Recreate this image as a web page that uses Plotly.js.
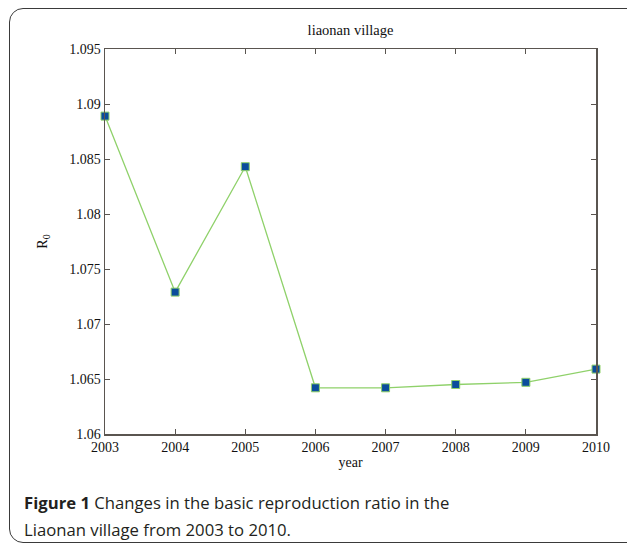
<!DOCTYPE html>
<html>
<head>
<meta charset="utf-8">
<script src="https://cdn.plot.ly/plotly-3.0.1.min.js"></script>
<style>
  html, body { margin: 0; padding: 0; background: #fff; }
  #wrap { position: relative; width: 627px; height: 547px; overflow: hidden; }
  #frame { position: absolute; left: 9px; top: 8px; width: 640px; height: 535px;
           border: 1.6px solid #3a3a3a; border-radius: 14px; box-sizing: border-box; pointer-events: none; }
  #chart { position: absolute; left: 0; top: 0; width: 627px; height: 547px; }
</style>
</head>
<body>
<div id="wrap">
  <div id="chart"></div>
  <div id="frame"></div>
</div>
<script>
const years = [2003, 2004, 2005, 2006, 2007, 2008, 2009, 2010];
const r0 = [1.0889, 1.0729, 1.0843, 1.0642, 1.0642, 1.0645, 1.0647, 1.0659];
const yTickVals = [1.06, 1.065, 1.07, 1.075, 1.08, 1.085, 1.09, 1.095];
const yTickText = ['1.06', '1.065', '1.07', '1.075', '1.08', '1.085', '1.09', '1.095'];
const xTickVals = years;
const xTickText = ['2003', '2004', '2005', '2006', '2007', '2008', '2009', '2010'];
const chartTitle = 'liaonan village';
const xTitle = 'year';
const yTitle = 'R<sub>0</sub>';
const captionLine1 = '<b>Figure 1</b> Changes in the basic reproduction ratio in the';
const captionLine2 = 'Liaonan village from 2003 to 2010.';

const serif = 'Liberation Serif, Times New Roman, serif';
const axisColor = '#5a5550';
const L = 105, R = 31, T = 49, B = 113;
const plotW = 627 - L - R, plotH = 547 - T - B;

const trace = {
  x: years, y: r0, type: 'scatter', mode: 'lines+markers',
  line: { color: '#8fd16a', width: 1.3 },
  marker: { symbol: 'square', size: 8, color: '#0b4d9c', line: { color: '#8fd16a', width: 1 } },
  cliponaxis: false, hoverinfo: 'skip'
};

const layout = {
  width: 627, height: 547,
  margin: { l: L, r: R, t: T, b: B },
  paper_bgcolor: 'rgba(0,0,0,0)', plot_bgcolor: 'rgba(0,0,0,0)',
  showlegend: false,
  title: { text: chartTitle, font: { family: serif, size: 14.5, color: '#111' },
           x: 0.5, xanchor: 'center', xref: 'paper', y: 1 - 30 / 547, yref: 'container', yanchor: 'middle' },
  xaxis: {
    range: [2003, 2010], tickmode: 'array', tickvals: xTickVals, ticktext: xTickText,
    showgrid: false, zeroline: false, showline: true, linecolor: axisColor, linewidth: 1.5,
    mirror: 'ticks', ticks: 'inside', ticklen: 5, tickcolor: axisColor, tickwidth: 1,
    tickfont: { family: serif, size: 14, color: '#111' },
    title: { text: xTitle, font: { family: serif, size: 14, color: '#111' }, standoff: 3 }
  },
  yaxis: {
    range: [1.06, 1.095], tickmode: 'array', tickvals: yTickVals, ticktext: yTickText,
    showgrid: false, zeroline: false, showline: true, linecolor: axisColor, linewidth: 1.5,
    mirror: 'ticks', ticks: 'inside', ticklen: 5, tickcolor: axisColor, tickwidth: 1,
    tickfont: { family: serif, size: 14, color: '#111' },
    title: { text: yTitle, font: { family: serif, size: 14, color: '#111' }, standoff: 18 }
  },
  annotations: [
    { text: captionLine1, xref: 'paper', yref: 'paper', x: (22 - L) / plotW, y: -(502 - 434) / plotH,
      xanchor: 'left', yanchor: 'middle', showarrow: false, align: 'left',
      font: { family: 'Open Sans, Noto Sans, sans-serif', size: 16.7, color: '#231f20' } },
    { text: captionLine2, xref: 'paper', yref: 'paper', x: (22 - L) / plotW, y: -(529 - 434) / plotH,
      xanchor: 'left', yanchor: 'middle', showarrow: false, align: 'left',
      font: { family: 'Open Sans, Noto Sans, sans-serif', size: 16.7, color: '#231f20' } }
  ]
};

Plotly.newPlot('chart', [trace], layout, { displayModeBar: false, staticPlot: true });
</script>
</body>
</html>
